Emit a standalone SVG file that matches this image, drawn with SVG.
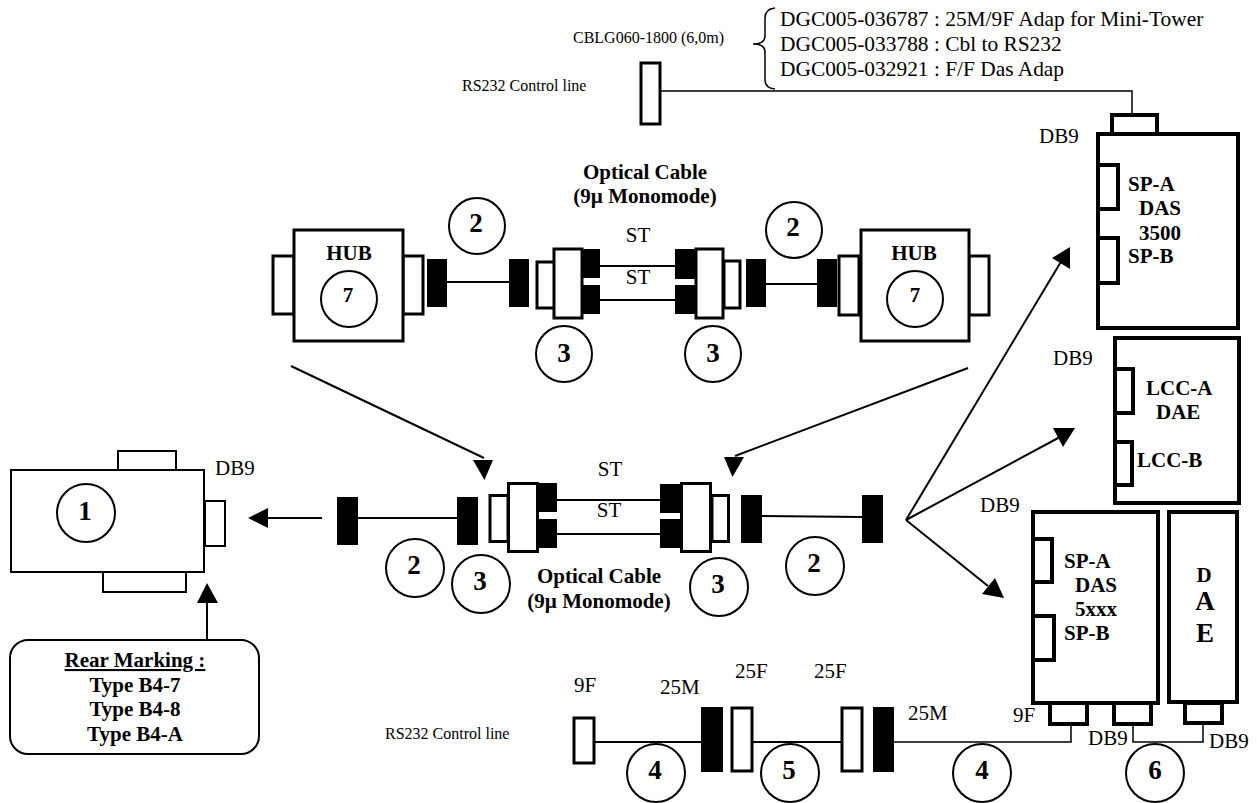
<svg xmlns="http://www.w3.org/2000/svg" width="1257" height="803" viewBox="0 0 1257 803">
<style>
text{font-family:"Liberation Serif","Times New Roman",serif;font-size:21px;fill:#000}
.b{font-weight:bold}
.m{text-anchor:middle}
.s{font-size:16px}
.d{font-size:21.400px}
.n{font-size:27px;font-weight:bold;text-anchor:middle}
.big{font-size:27px;font-weight:bold;text-anchor:middle}
.h{fill:#fff;stroke:#000;stroke-width:3}
.x{fill:#fff;stroke:#000;stroke-width:4}
.t{fill:#fff;stroke:#000;stroke-width:2}
.k{fill:#000;stroke:none}
.c{fill:none;stroke:#000;stroke-width:2}
.l{fill:none;stroke:#000;stroke-width:2}
.f{fill:none;stroke:#000;stroke-width:1.500}
</style>
<g id="connectors">
<path class="f" d="M660 91H1132V113"/>
<path class="l" d="M447 282H510"/>
<path class="l" d="M600 266H675M600 300H675"/>
<path class="l" d="M766 284H817"/>
<path class="l" d="M358 518H457"/>
<path class="l" d="M556 500H661M556 534H661"/>
<path class="l" d="M762 516L862 517"/>
<path class="l" d="M594 742H701M752 742H842"/>
<path class="f" d="M894 742H1071V724"/>
<path class="f" d="M1133 722V742H1203V724"/>
<path class="l" d="M291 366L484 458"/><polygon class="k" points="473,460 493,460 484.500,480"/>
<path class="l" d="M968 368L735 456"/><polygon class="k" points="724,457 744,457 732.500,477"/>
<path class="l" d="M322 518H266"/><polygon class="k" points="248,518 268,508 268,528"/>
<path class="l" d="M207 640V600"/><polygon class="k" points="207,583 197,603 218,603"/>
<path class="l" d="M906 520L1062 260"/><polygon class="k" points="1070,247 1052,258 1070,269"/>
<path class="l" d="M906 520L1060 437"/><polygon class="k" points="1075,428 1053,428 1063,447"/>
<path class="l" d="M906 520L988 586"/><polygon class="k" points="995,578 982,594 1004,598"/>
<path fill="none" stroke="#000" stroke-width="1.500" d="M775 8Q765 9 765 18V36Q765 44 753 44Q765 44 765 52V80Q765 88 775 89"/>
</g>
<g id="hub-left">
<rect class="h" x="273" y="256" width="21" height="58"/><rect class="h" x="403" y="256" width="20" height="58"/>
<rect class="h" x="294" y="230" width="109" height="111"/>
<text class="b m" x="349" y="260">HUB</text>
<circle class="c" cx="349" cy="299" r="28"/><text class="b m" x="348" y="302">7</text>
</g>
<g id="hub-right">
<rect class="h" x="839" y="256" width="20" height="59"/><rect class="h" x="969" y="256" width="20" height="59"/>
<rect class="h" x="861" y="230" width="108" height="111"/>
<text class="b m" x="914" y="260">HUB</text>
<circle class="c" cx="915" cy="299" r="28"/><text class="b m" x="915" y="302">7</text>
</g>
<g id="cable-top">
<rect class="k" x="427" y="259" width="20" height="48"/><rect class="k" x="509" y="259" width="20" height="48"/>
<rect class="k" x="746" y="259" width="20" height="48"/><rect class="k" x="817" y="259" width="20" height="48"/>
<rect class="h" x="537" y="262" width="18" height="46"/><rect class="h" x="554" y="249" width="28" height="69"/>
<rect class="k" x="582" y="249" width="18" height="29"/><rect class="k" x="582" y="285" width="18" height="29"/>
<rect class="k" x="675" y="249" width="20" height="30"/><rect class="k" x="675" y="285" width="20" height="29"/>
<rect class="h" x="724" y="261" width="16" height="47"/><rect class="h" x="696" y="249" width="27" height="69"/>
<text class="b m" x="645" y="179">Optical Cable</text><text class="b m" x="645" y="203">(9µ Monomode)</text>
<text class="m" x="638" y="242">ST</text><text class="m" x="638" y="284">ST</text>
<circle class="c" cx="477" cy="226" r="28"/><text class="n" x="476" y="232">2</text>
<circle class="c" cx="794" cy="230" r="28"/><text class="n" x="793" y="236">2</text>
<circle class="c" cx="564" cy="354" r="28"/><text class="n" x="564" y="362">3</text>
<circle class="c" cx="713" cy="354" r="28"/><text class="n" x="713" y="362">3</text>
</g>
<g id="cable-bottom">
<rect class="k" x="337" y="497" width="21" height="48"/><rect class="k" x="457" y="497" width="21" height="48"/>
<rect class="k" x="741" y="495" width="21" height="48"/><rect class="k" x="862" y="495" width="21" height="48"/>
<rect class="h" x="490" y="495.500" width="18" height="46"/><rect class="h" x="508.500" y="483.500" width="29" height="68"/>
<rect class="k" x="539" y="483" width="18" height="29"/><rect class="k" x="539" y="519" width="18" height="29"/>
<rect class="k" x="660" y="484" width="21" height="29"/><rect class="k" x="660" y="519" width="21" height="29"/>
<rect class="h" x="712" y="495.500" width="16.500" height="46"/><rect class="h" x="681.500" y="483.500" width="29" height="68"/>
<text class="m" x="610" y="476">ST</text><text class="m" x="609" y="517">ST</text>
<text class="b m" x="599" y="583">Optical Cable</text><text class="b m" x="599" y="608">(9µ Monomode)</text>
<circle class="c" cx="415" cy="568" r="29"/><text class="n" x="414" y="574">2</text>
<circle class="c" cx="481" cy="584" r="29"/><text class="n" x="480" y="590">3</text>
<circle class="c" cx="719" cy="587" r="29"/><text class="n" x="718" y="593">3</text>
<circle class="c" cx="815" cy="566" r="29"/><text class="n" x="814" y="572">2</text>
</g>
<g id="node-1">
<rect class="t" x="118" y="451" width="58" height="19"/><rect class="t" x="103" y="572" width="83" height="20"/><rect class="t" x="205" y="501" width="20" height="45"/>
<rect class="t" x="11" y="470" width="193" height="102"/>
<circle class="c" cx="86" cy="513" r="29"/><text class="n" x="85" y="520">1</text>
<text x="215" y="475">DB9</text>
</g>
<g id="rear-marking">
<rect class="t" x="10" y="640" width="249" height="114" rx="18"/>
<text class="b m" x="135" y="667" text-decoration="underline">Rear Marking :</text>
<text class="b m" x="135" y="692">Type B4-7</text><text class="b m" x="135" y="716">Type B4-8</text><text class="b m" x="135" y="741">Type B4-A</text>
</g>
<g id="rs232-top">
<rect class="h" x="641" y="63" width="19" height="61"/>
<text class="s" x="573" y="43">CBLG060-1800 (6,0m)</text>
<text class="s" x="462" y="91">RS232 Control line</text>
<text class="d" x="780" y="26">DGC005-036787 : 25M/9F Adap for Mini-Tower</text>
<text class="d" x="780" y="51">DGC005-033788 : Cbl to RS232</text>
<text class="d" x="780" y="76">DGC005-032921 : F/F Das Adap</text>
</g>
<g id="das-3500">
<rect class="x" x="1112" y="115" width="45" height="19"/>
<rect class="x" x="1098" y="134" width="140" height="194"/>
<rect class="x" x="1098" y="165" width="20" height="44"/><rect class="x" x="1098" y="238" width="20" height="45"/>
<text class="b" x="1128" y="191">SP-A</text><text class="b" x="1139" y="215">DAS</text><text class="b" x="1139" y="240">3500</text><text class="b" x="1128" y="263">SP-B</text>
<text x="1039" y="143">DB9</text>
</g>
<g id="dae-lcc">
<rect class="x" x="1115" y="338" width="124" height="165"/>
<rect class="x" x="1115" y="369" width="18" height="44"/><rect class="x" x="1115" y="442" width="17" height="43"/>
<text class="b" x="1146" y="395">LCC-A</text><text class="b" x="1156" y="419">DAE</text><text class="b" x="1137" y="467">LCC-B</text>
<text x="1053" y="365">DB9</text>
</g>
<g id="das-5xxx">
<rect class="x" x="1050" y="703" width="37" height="21"/><rect class="x" x="1114" y="703" width="37" height="21"/>
<rect class="x" x="1033" y="512" width="125" height="191"/>
<rect class="x" x="1033" y="539" width="19" height="43"/><rect class="x" x="1033" y="616" width="21" height="44"/>
<text class="b" x="1064" y="568">SP-A</text><text class="b" x="1075" y="592">DAS</text><text class="b" x="1075" y="616">5xxx</text><text class="b" x="1064" y="640">SP-B</text>
<text x="980" y="512">DB9</text><text x="1013" y="722">9F</text><text x="1088" y="745">DB9</text>
</g>
<g id="dae">
<rect class="x" x="1185" y="703" width="37" height="20"/>
<rect class="x" x="1169" y="512" width="68" height="190"/>
<text class="b m" x="1204" y="582">D</text><text class="big" x="1205" y="610">A</text><text class="big" x="1205" y="642">E</text>
<text x="1209" y="748">DB9</text>
</g>
<g id="rs232-bottom">
<rect class="h" x="574" y="718" width="20" height="45"/>
<rect class="k" x="701" y="707" width="22" height="65"/>
<rect class="h" x="732" y="708" width="20" height="63"/>
<rect class="h" x="842" y="708" width="20" height="63"/>
<rect class="k" x="873" y="707" width="21" height="65"/>
<text class="s" x="385" y="739">RS232 Control line</text>
<text x="574" y="692">9F</text><text x="660" y="694">25M</text><text x="735" y="678">25F</text><text x="814" y="678">25F</text><text x="908" y="720">25M</text>
<circle class="c" cx="656" cy="773" r="29"/><text class="n" x="655" y="779">4</text>
<circle class="c" cx="790" cy="773" r="29"/><text class="n" x="789" y="779">5</text>
<circle class="c" cx="982" cy="773" r="29"/><text class="n" x="982" y="779">4</text>
<circle class="c" cx="1155" cy="773" r="29"/><text class="n" x="1155" y="779">6</text>
</g>
</svg>
